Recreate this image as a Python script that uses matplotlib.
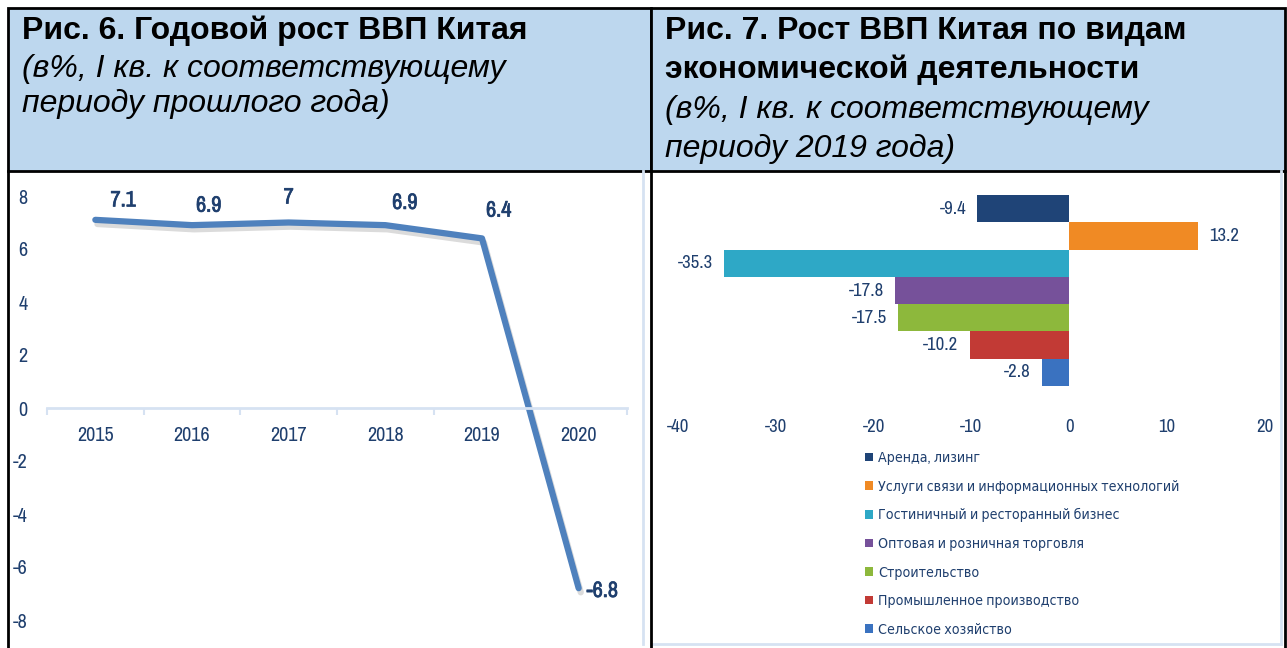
import matplotlib
matplotlib.use("Agg")
import matplotlib.pyplot as plt
import matplotlib.patheffects as pe
from matplotlib import font_manager as fm
from matplotlib.patches import Rectangle
from matplotlib.lines import Line2D
import numpy as np

# data
years = ["2015", "2016", "2017", "2018", "2019", "2020"]
gdp_growth = [7.1, 6.9, 7, 6.9, 6.4, -6.8]

sectors = ["Аренда, лизинг",
           "Услуги связи и информационных технологий",
           "Гостиничный и ресторанный бизнес",
           "Оптовая и розничная торговля",
           "Строительство",
           "Промышленное производство",
           "Сельское хозяйство"]
sector_growth = [-9.4, 13.2, -35.3, -17.8, -17.5, -10.2, -2.8]
sector_colors = ["#1F4477", "#F08A24", "#2EA8C6", "#76519A", "#8DB83C", "#C23A35", "#3A72C0"]

title_l = "Рис. 6. Годовой рост ВВП Китая"
sub_l = ["(в%, I кв. к соответствующему", "периоду прошлого года)"]
title_r = ["Рис. 7. Рост ВВП Китая по видам", "экономической деятельности"]
sub_r = ["(в%, I кв. к соответствующему", "периоду 2019 года)"]

W, H = 1287, 648
navy = "#1F3F6E"
head = ["Liberation Sans", "DejaVu Sans"]

# a narrow face like Arial Narrow, if one is installed
names = sorted({f.name for f in fm.fontManager.ttflist})
cond = [n for n in names if "Narrow" in n or "Condensed" in n]
if cond:
    narrow = [cond[0], "DejaVu Sans"]
    k = 1.0
else:
    narrow = ["Liberation Sans", "DejaVu Sans"]
    k = 0.85
bold_fx = [pe.withStroke(linewidth=0.5, foreground=navy)]

fig = plt.figure(figsize=(W / 100, H / 100), dpi=100)
fig.patch.set_facecolor("white")


def fx(px):
    return px / W


def fy(py):
    return 1 - py / H


# header boxes and frame
for x0, x1 in [(8, 651), (651, 1285)]:
    fig.patches.append(Rectangle((fx(x0), fy(171)), fx(x1 - x0), (171 - 8) / H,
                                 transform=fig.transFigure, facecolor="#BDD7EE",
                                 edgecolor="black", lw=2, zorder=0))
for x in [643, 1281]:
    fig.lines.append(Line2D([fx(x), fx(x)], [fy(171), fy(644)], transform=fig.transFigure,
                            color="#D6E2F2", lw=2))
fig.lines.append(Line2D([fx(651), fx(1281)], [fy(644), fy(644)], transform=fig.transFigure,
                        color="#D6E2F2", lw=2))
for x in [8, 651, 1285]:
    fig.lines.append(Line2D([fx(x), fx(x)], [fy(171), fy(648)], transform=fig.transFigure,
                            color="black", lw=2))

# header texts
fs = 23
fig.text(fx(22), fy(31), title_l, family=head, weight="bold", fontsize=fs, va="center")
fig.text(fx(22), fy(69), sub_l[0], family=head, style="italic", fontsize=fs, va="center")
fig.text(fx(22), fy(104), sub_l[1], family=head, style="italic", fontsize=fs, va="center")
fig.text(fx(665), fy(31), title_r[0], family=head, weight="bold", fontsize=fs, va="center")
fig.text(fx(665), fy(70), title_r[1], family=head, weight="bold", fontsize=fs, va="center")
fig.text(fx(665), fy(110), sub_r[0], family=head, style="italic", fontsize=fs, va="center")
fig.text(fx(665), fy(149), sub_r[1], family=head, style="italic", fontsize=fs, va="center")

# left chart: line
ax1 = fig.add_axes([fx(47), fy(620), fx(580), (620 - 196) / H])
ax1.patch.set_alpha(0)
for s in ["top", "right", "left"]:
    ax1.spines[s].set_visible(False)
ax1.spines["bottom"].set_position(("data", 0))
ax1.spines["bottom"].set_color("#D6E2F2")
ax1.spines["bottom"].set_linewidth(2)

x = np.arange(len(years))
ax1.plot(x, gdp_growth, color="#4F81BD", lw=4.5, solid_capstyle="round",
         solid_joinstyle="round", clip_on=False,
         path_effects=[pe.SimpleLineShadow(offset=(1.5, -3), shadow_color="#888888", alpha=0.3),
                       pe.Normal()])
ax1.set_xlim(-0.5, 5.5)
ax1.set_ylim(-8, 8)
ax1.set_yticks(range(-8, 9, 2))
ax1.set_yticklabels([str(v) for v in range(-8, 9, 2)])
ax1.tick_params(axis="y", length=0, pad=14)
ax1.set_xticks(x)
ax1.set_xticklabels(years)
ax1.set_xticks(np.arange(-0.5, 6, 1), minor=True)
ax1.tick_params(axis="x", which="major", length=0, pad=13)
ax1.tick_params(axis="x", which="minor", length=5, color="#D6E2F2", width=1.5)
for t in ax1.get_xticklabels() + ax1.get_yticklabels():
    t.set_family(narrow)
    t.set_fontstretch("condensed")
    t.set_fontsize(14.5 * k)
    t.set_color(navy)

lab_off = [(20, 14), (12, 14), (0, 18), (14, 16), (12, 20), (17, -2)]
for xi, yi, (dx, dy) in zip(x, gdp_growth, lab_off):
    ax1.annotate(f"{yi:g}", (xi, yi), xytext=(dx, dy), textcoords="offset points",
                 ha="center", va="center", family=narrow, fontstretch="condensed",
                 weight="bold", fontsize=16 * k, color=navy, path_effects=bold_fx)

# right chart: bars
ax2 = fig.add_axes([fx(678), fy(386), fx(587), (386 - 195) / H])
ax2.patch.set_alpha(0)
yy = np.arange(len(sectors))
ax2.barh(yy, sector_growth, height=1.0, color=sector_colors, edgecolor="none")
ax2.set_ylim(len(sectors) - 0.5, -0.5)
ax2.set_xlim(-40, 20)
ax2.set_xticks(range(-40, 21, 10))
ax2.set_xticklabels([str(v) for v in range(-40, 21, 10)])
ax2.tick_params(axis="x", length=0, pad=24)
for t in ax2.get_xticklabels():
    t.set_family(narrow)
    t.set_fontstretch("condensed")
    t.set_fontsize(13.5 * k)
    t.set_color(navy)
ax2.set_yticks([])
for s in ax2.spines.values():
    s.set_visible(False)
for yi, v in zip(yy, sector_growth):
    ax2.annotate(f"{v:g}", (v, yi), xytext=(-8 if v < 0 else 8, 0), textcoords="offset points",
                 ha="right" if v < 0 else "left", va="center", family=narrow,
                 fontstretch="condensed", fontsize=13.5 * k, color=navy)

handles = [Rectangle((0, 0), 1, 1, facecolor=c) for c in sector_colors]
leg = fig.legend(handles, sectors, loc="upper left", bbox_to_anchor=(fx(858), fy(444)),
                 frameon=False, handlelength=0.55, handleheight=0.55, handletextpad=0.35,
                 labelspacing=1.03, borderpad=0,
                 prop={"family": narrow, "stretch": "condensed", "size": 10.2 * k})
for t in leg.get_texts():
    t.set_color(navy)

fig.savefig("out.png", dpi=100)
